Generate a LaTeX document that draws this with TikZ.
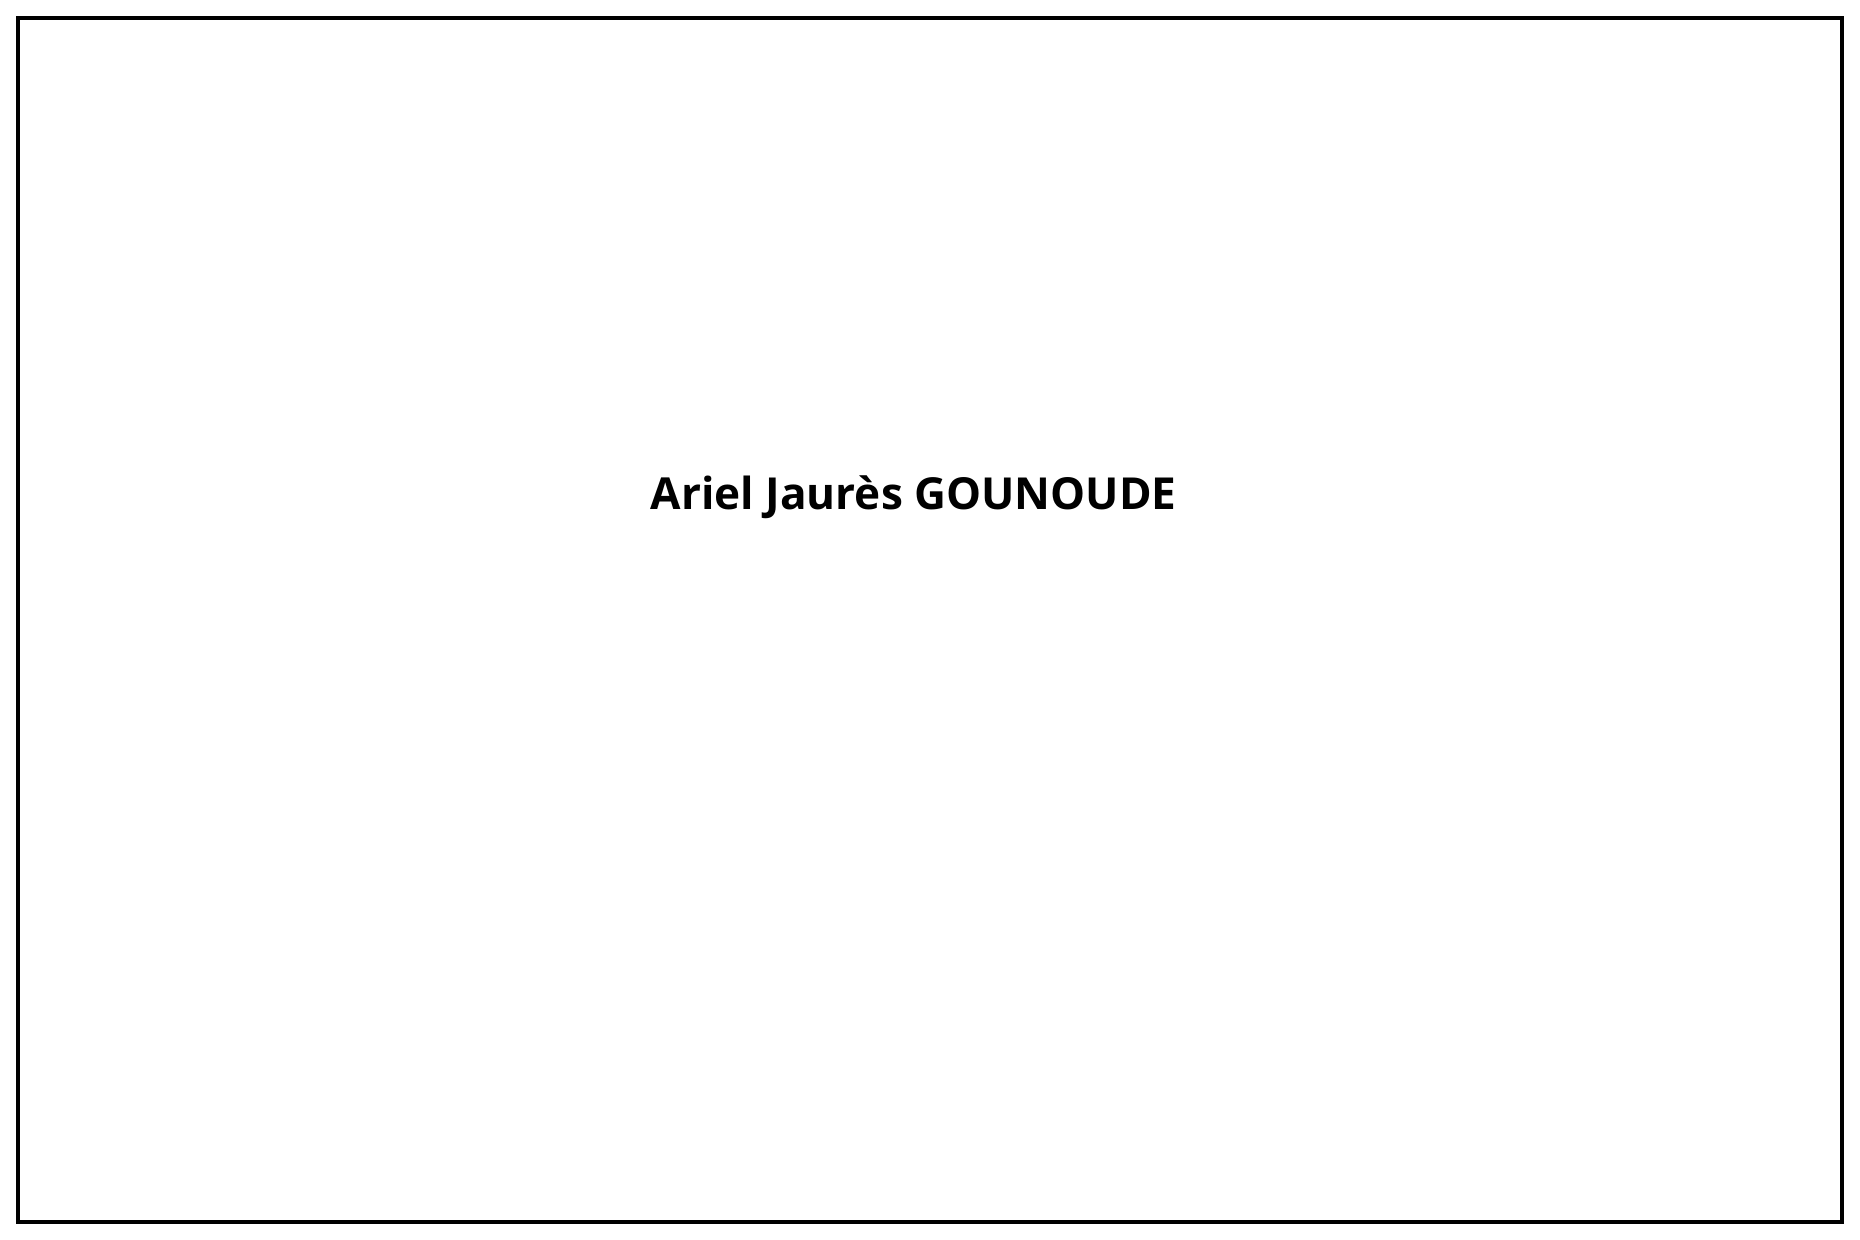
\documentclass[tikz,border=0pt]{standalone}
\usepackage{fontspec}
\setmainfont{Open Sans}
\begin{document}
\begin{tikzpicture}[x=0.1mm,y=-0.1mm,
  frame/.style={draw=black,line width=0.4mm},
  title/.style={font=\fontsize{12.55pt}{15pt}\selectfont\bfseries,inner sep=0pt,anchor=base west}]
\useasboundingbox (0,0) rectangle (1860,1240);
\draw[frame] (18,18) rectangle (1842,1222);
\node[title] (name) at (650,509) {Ariel Jaurès GOUNOUDE};
\end{tikzpicture}
\end{document}
